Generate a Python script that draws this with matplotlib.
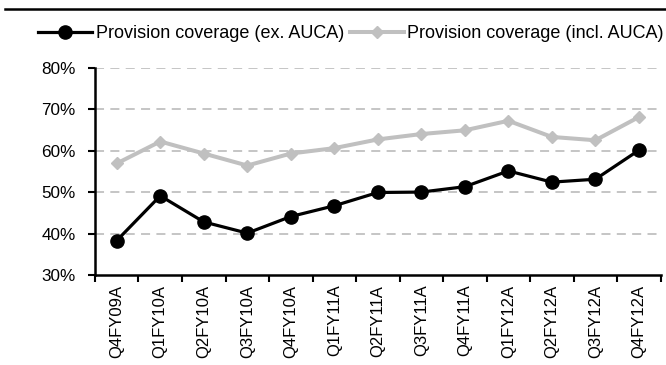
import numpy as np
import matplotlib.pyplot as plt
from matplotlib.lines import Line2D
from matplotlib.ticker import FuncFormatter, FixedLocator

plt.rcParams['font.family'] = ['Liberation Sans', 'DejaVu Sans']
plt.rcParams['font.size'] = 13

quarters = ['Q4FY09A', 'Q1FY10A', 'Q2FY10A', 'Q3FY10A', 'Q4FY10A', 'Q1FY11A',
            'Q2FY11A', 'Q3FY11A', 'Q4FY11A', 'Q1FY12A', 'Q2FY12A', 'Q3FY12A',
            'Q4FY12A']
cov_ex_auca = [38.3, 49.1, 42.8, 40.1, 44.1, 46.7, 49.9, 50.0, 51.3, 55.1,
               52.4, 53.1, 60.1]
cov_incl_auca = [56.9, 62.2, 59.3, 56.4, 59.3, 60.6, 62.7, 64.0, 64.9, 67.2,
                 63.3, 62.5, 68.1]

fig = plt.figure(figsize=(6.66, 3.65), dpi=100)
ax = fig.add_axes([0.1426, 0.2466, 0.992 - 0.1426, 0.8145 - 0.2466])

x = np.arange(len(quarters))
ax.plot(x, cov_ex_auca, color='black', lw=2.3, marker='o', ms=9.5,
        label='Provision coverage (ex. AUCA)', zorder=4)
ax.plot(x, cov_incl_auca, color='#c0c0c0', lw=2.9, marker='D', ms=6.5,
        label='Provision coverage (incl. AUCA)', zorder=3)

ax.set_xlim(-0.5, len(quarters) - 0.5)
ax.set_ylim(30, 80)
ax.set_yticks(np.arange(30, 81, 10))
ax.yaxis.set_major_formatter(FuncFormatter(lambda v, p: f'{v:.0f}%'))

# category labels in the middle, tick marks on the boundaries
ax.set_xticks(x)
ax.set_xticklabels(quarters, rotation=90, fontsize=12)
ax.tick_params(axis='x', which='major', length=0, pad=7)
ax.xaxis.set_minor_locator(FixedLocator(np.arange(-0.5, len(quarters), 1.0)))
ax.tick_params(axis='x', which='minor', length=5, width=1.5, direction='out')
ax.tick_params(axis='y', length=5, width=1.5, direction='out', pad=9,
               labelsize=12.3)

for v in np.arange(40, 81, 10):
    ax.axhline(v, color='#c0c0c0', lw=1.3, ls=(0, (5, 3.5)), zorder=1)

for s in ['top', 'right']:
    ax.spines[s].set_visible(False)
for s in ['left', 'bottom']:
    ax.spines[s].set_linewidth(1.8)

fig.legend(loc='center', bbox_to_anchor=(0.527, 0.907), ncol=2, frameon=False,
           handlelength=3.0, handletextpad=0.2, columnspacing=0.3,
           borderaxespad=0, borderpad=0)

fig.add_artist(Line2D([0.008, 0.998], [1 - 9 / 365, 1 - 9 / 365],
                      color='black', lw=1.8, transform=fig.transFigure))

fig.savefig('out.png', dpi=100)
